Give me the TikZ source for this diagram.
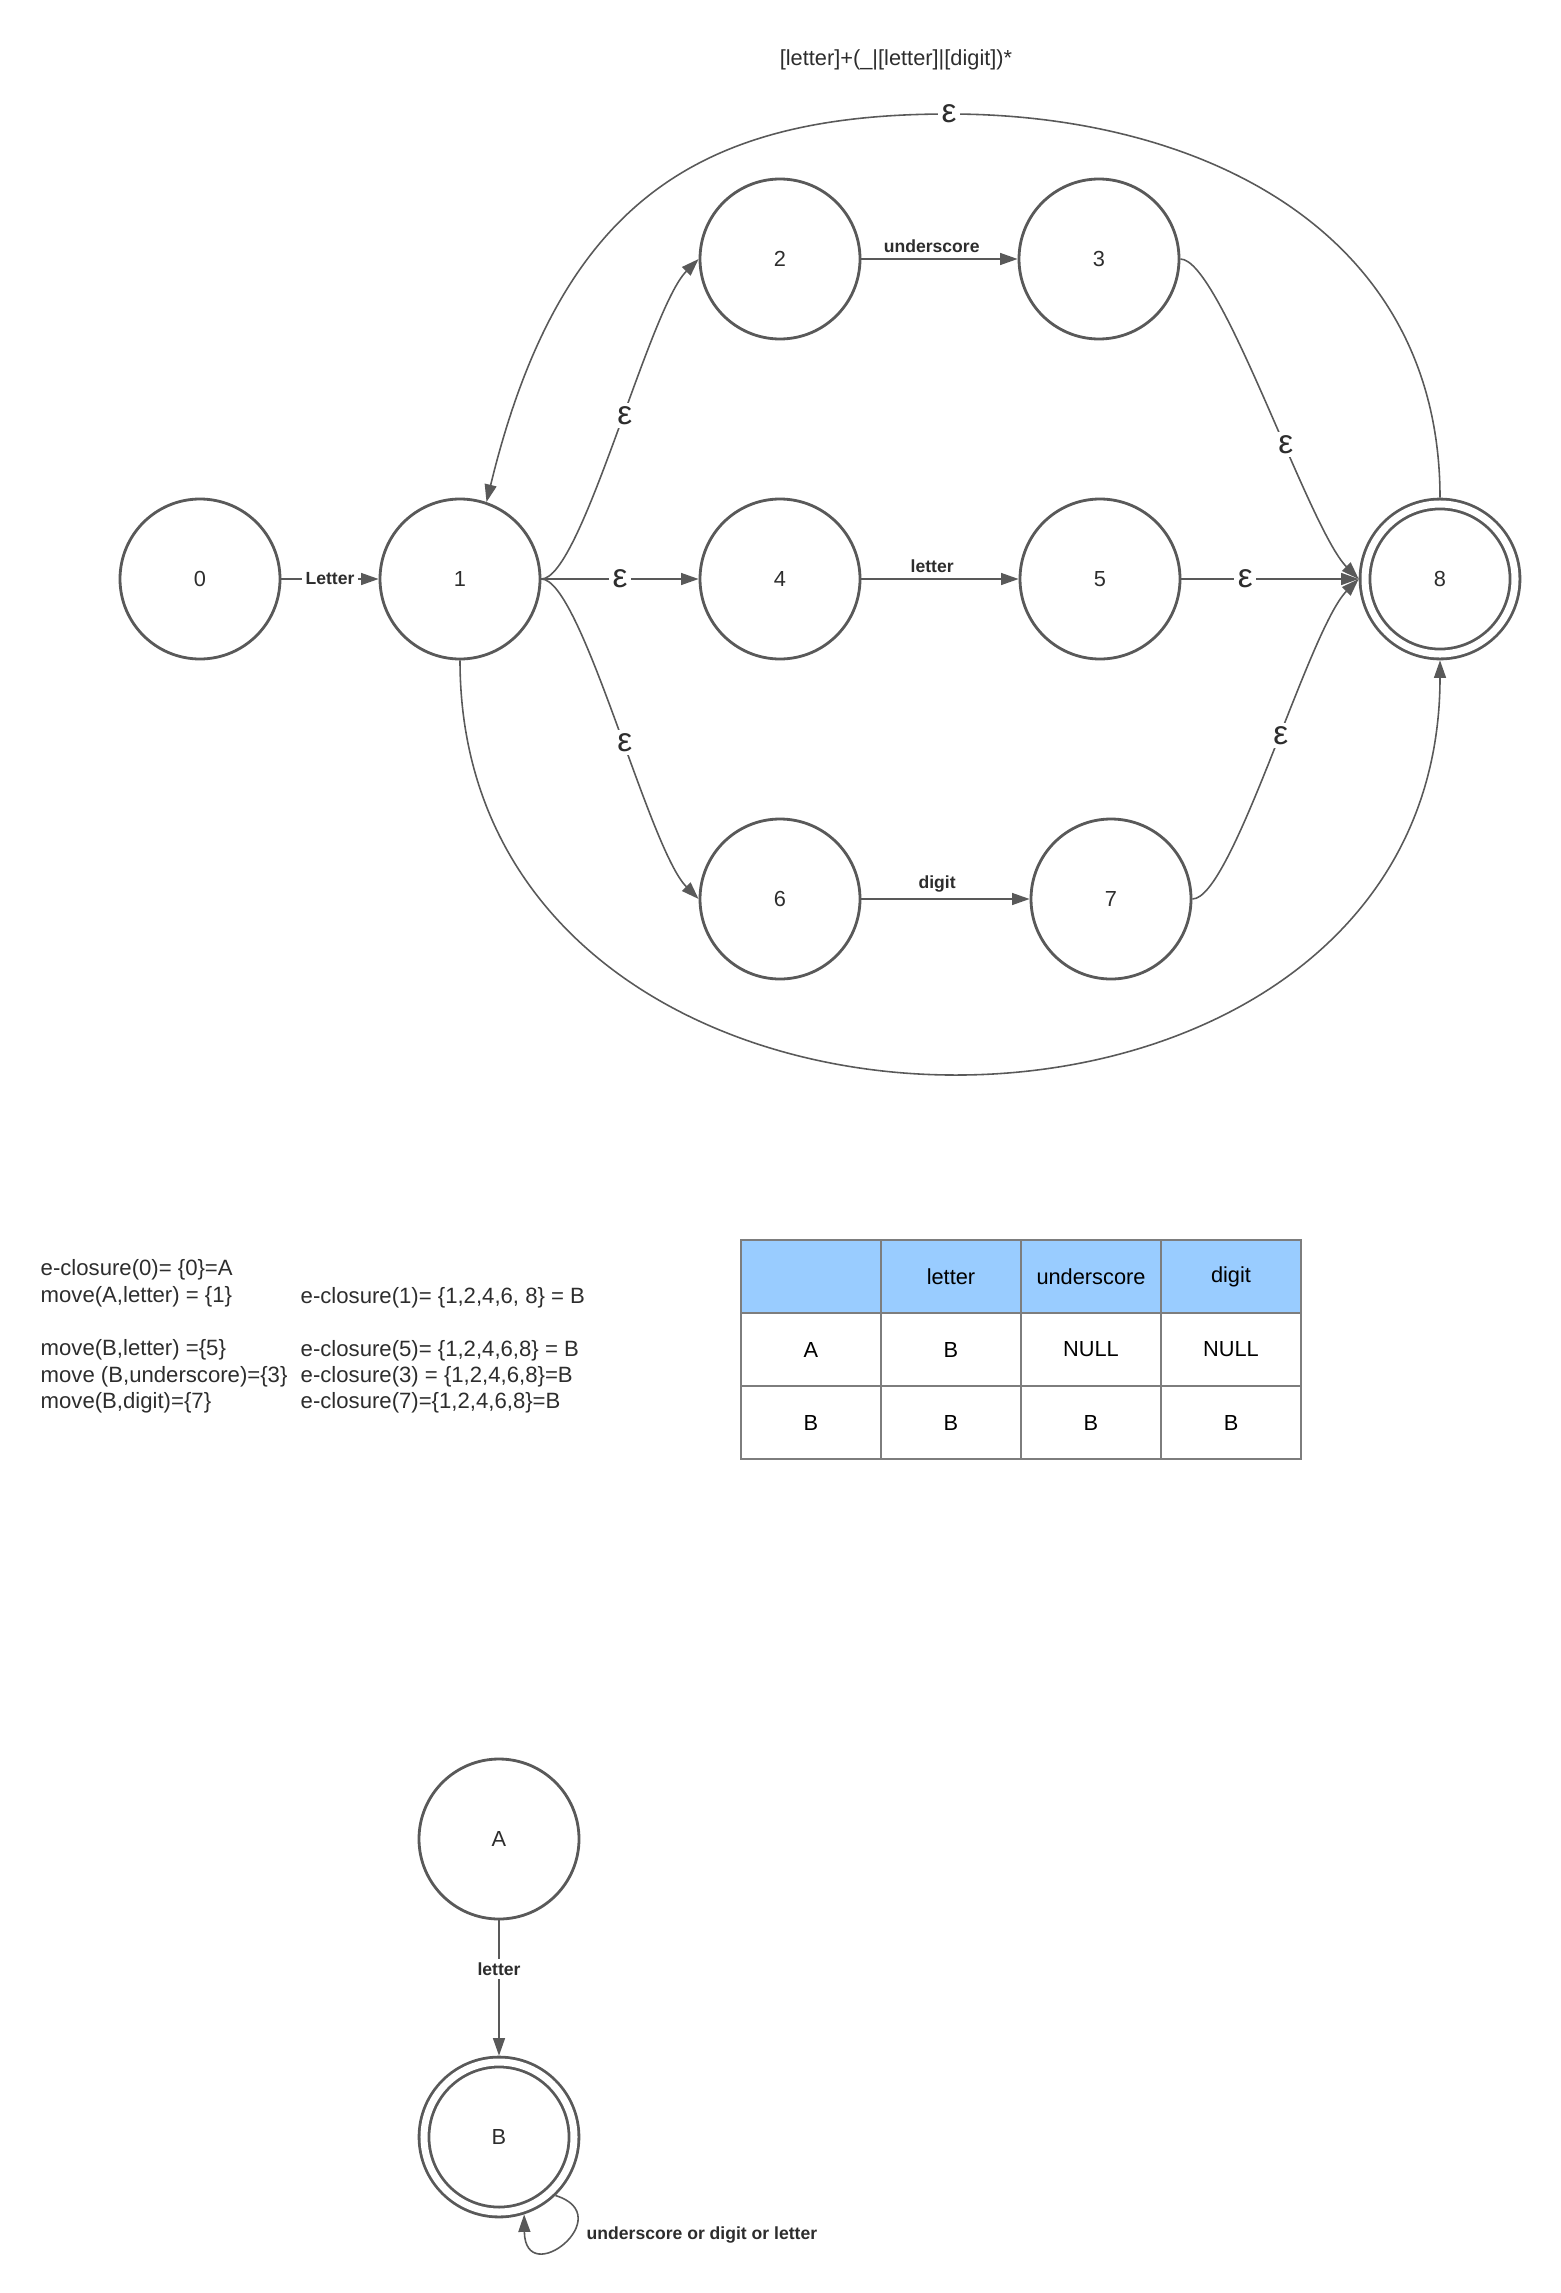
\documentclass[tikz,border=0pt]{standalone}
\usepackage{fontspec}
\setmainfont{Liberation Sans}
\usetikzlibrary{arrows.meta}
\definecolor{edgegray}{RGB}{89,89,89}
\definecolor{txtgray}{RGB}{45,45,45}
\definecolor{hdrblue}{RGB}{153,204,255}
\definecolor{gridgray}{RGB}{125,125,125}
\tikzset{
  st/.style={circle,draw=edgegray,line width=0.8pt,minimum size=16mm,inner sep=0pt},
  acc/.style={st,double,double distance=2pt,minimum size=15mm,outer sep=1.8pt},
  tr/.style={->,draw=edgegray,line width=0.45pt},
  lab/.style={font=\bfseries\fontsize{5}{6}\selectfont},
  eps/.style={fill=white,inner sep=1pt,font=\fontsize{9.5}{11}\selectfont},
  cell/.style={draw=gridgray,line width=0.5pt,minimum width=14mm,minimum height=7.3mm,inner sep=0pt,text=black},
  calc/.style={anchor=west,inner sep=0pt,font=\fontsize{6.3}{7.5}\selectfont},
}

\begin{document}
\begin{tikzpicture}[x=0.1mm,y=-0.1mm,>={Triangle[length=5pt,width=3.4pt]},
   every node/.style={text=txtgray,font=\fontsize{6.2}{7.5}\selectfont}]
\useasboundingbox (0,0) rectangle (1560,2293);
\node (title) at (896,60) {[letter]+(\_|[letter]|[digit])*};

\node[st] (q0) at (200,579) {0};
\node[st] (q1) at (460,579) {1};
\node[st] (q2) at (780,259) {2};
\node[st] (q3) at (1099,259) {3};
\node[st] (q4) at (780,579) {4};
\node[st] (q5) at (1100,579) {5};
\node[st] (q6) at (780,899) {6};
\node[st] (q7) at (1111,899) {7};
\node[acc] (q8) at (1440,579) {8};

\draw[tr] (q0) -- node[lab,fill=white,inner sep=1pt]{Letter} (q1);
\draw[tr] (q1) -- node[eps]{ε} (q4);
\draw[tr] (q1.east) .. controls +(40,0) and +(-50,50) .. node[eps,pos=0.55]{ε} (q2.west);
\draw[tr] (q1.east) .. controls +(40,0) and +(-50,-50) .. node[eps,pos=0.55]{ε} (q6.west);
\draw[tr] (q2) -- node[lab,above,inner sep=1.6pt,pos=0.45]{underscore} (q3);
\draw[tr] (q4) -- node[lab,above,inner sep=1.6pt,pos=0.45]{letter} (q5);
\draw[tr] (q6) -- node[lab,above,inner sep=1.6pt,pos=0.45]{digit} (q7);
\draw[tr] (q3.east) .. controls +(40,0) and +(-50,-50) .. node[eps,pos=0.6]{ε} (q8.west);
\draw[tr] (q5) -- node[eps,pos=0.36]{ε} (q8);
\draw[tr] (q7.east) .. controls +(40,0) and +(-50,50) .. node[eps,pos=0.55]{ε} (q8.west);
\draw[tr] (q8.north) .. controls (1440,230) and (1200,114) .. (949,114) node[eps]{ε}
   .. controls (700,114) and (560,200) .. (q1.71);
\draw[tr] (q1.south) .. controls +(0,550) and +(0,550) .. (q8.south);

\foreach \y/\t in {1270/{e-closure(0)= \{0\}=A},1297/{move(A,letter) = \{1\}},
   1350/{move(B,letter) =\{5\}},1377/{move (B,underscore)=\{3\}},1403/{move(B,digit)=\{7\}}}
  \node[calc] at (40,\y) {\t};
\foreach \y/\t in {1298/{e-closure(1)= \{1,2,4,6, 8\} = B},1351/{e-closure(5)= \{1,2,4,6,8\} = B},
   1377/{e-closure(3) = \{1,2,4,6,8\}=B},1403/{e-closure(7)=\{1,2,4,6,8\}=B}}
  \node[calc] at (300,\y) {\t};

\foreach \t [count=\i from 0] in {{},letter,underscore,digit}
  \node[cell,fill=hdrblue] (h\i) at (811+140*\i,1276.5) {\t};
\foreach \t [count=\i from 0] in {A,B,NULL,NULL}
  \node[cell] (a\i) at (811+140*\i,1349.5) {\t};
\foreach \t [count=\i from 0] in {B,B,B,B}
  \node[cell] (b\i) at (811+140*\i,1422.5) {\t};

\node[st] (qA) at (499,1839) {A};
\node[acc] (qB) at (499,2137) {B};
\draw[tr] (qA) -- node[lab,fill=white,inner sep=1pt,pos=0.36]{letter} (qB);
\draw[tr] (qB.-46) .. controls +(65,20) and +(1,77) .. (qB.-72);
\node[lab,anchor=west,inner sep=0pt] (loop) at (586,2235) {underscore or digit or letter};
\end{tikzpicture}
\end{document}
